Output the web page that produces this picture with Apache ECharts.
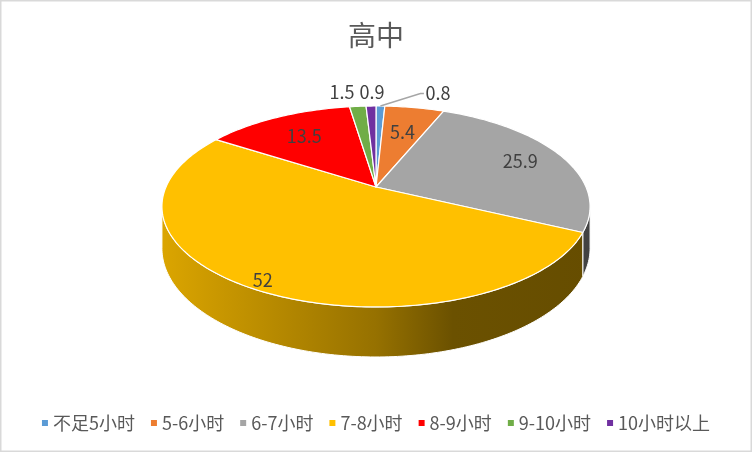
<!DOCTYPE html>
<html lang="zh">
<head>
    <meta charset="UTF-8">
    <title>高中</title>
    <script src="https://cdn.jsdelivr.net/npm/echarts@6/dist/echarts.min.js"></script>
    <style>
        body{margin:0;background:#fff;}
        #main{width:752px;height:452px;}
    </style>
</head>
<body>
    <div id="main"></div>
    <script>
        // data
        var categories = ['不足5小时', '5-6小时', '6-7小时', '7-8小时', '8-9小时', '9-10小时', '10小时以上'];
        var values = [0.8, 5.4, 25.9, 52, 13.5, 1.5, 0.9];
        var colors = ['#5B9BD5', '#ED7D31', '#A5A5A5', '#FFC000', '#FF0000', '#70AD47', '#7030A0'];

        // 3d view of the pie (projected circle)
        var cx = 376, cy = 187;   // apex
        var A = 210, B = 96.7;    // radii before perspective
        var p = 0.194;            // perspective
        var D = 40.3;             // thickness
        var FONT = '"Noto Sans CJK SC", "Noto Sans", sans-serif';

        var total = values.reduce(function (s, v) { return s + v; }, 0);

        function proj(deg, r) {
            var a = deg * Math.PI / 180;
            var u = r * Math.sin(a), v = -r * Math.cos(a);
            var w = 1 - p * v;
            return [cx + A * u / w, cy + B * v / w, w];
        }
        function startAngle(i) {
            var s = 0;
            for (var k = 0; k < i; k++) s += values[k];
            return s / total * 360;
        }
        function arc(a0, a1, r) {
            var pts = [];
            var n = Math.max(2, Math.ceil((a1 - a0) / 1));
            for (var k = 0; k <= n; k++) pts.push(proj(a0 + (a1 - a0) * k / n, r));
            return pts;
        }
        function shade(hex, f) {
            var n = parseInt(hex.slice(1), 16);
            var r = Math.round(((n >> 16) & 255) * f), g = Math.round(((n >> 8) & 255) * f), b = Math.round((n & 255) * f);
            return 'rgb(' + r + ',' + g + ',' + b + ')';
        }
        // the front wall is seen where v > p
        var visFrom = 180 - Math.acos(p) * 180 / Math.PI;
        var visTo = 360 - visFrom;

        // label positions
        function layoutLabels() {
            var res = [];
            var topY = proj(0, 1)[1];
            var leftX = null;
            for (var i = values.length - 1; i >= 0; i--) {
                var pct = values[i] / total * 100;
                var mid = startAngle(i) + values[i] / total * 180;
                var txt = String(values[i]);
                if (pct >= 2) {
                    var q = proj(mid, 0.62 + 0.006 * pct);
                    res[i] = {text: txt, x: q[0], y: q[1], align: 'center'};
                } else if (mid < 90) {
                    var e = proj(mid, 1);
                    var ly = topY - 12.5;
                    res[i] = {text: txt, x: e[0] + 45, y: ly, align: 'left',
                        leader: [[e[0], e[1]], [e[0] + 40, ly], [e[0] + 43.5, ly]]};
                } else {
                    var n = proj(mid, 1);
                    var x = leftX === null ? n[0] + 1 : Math.min(n[0], leftX - 30);
                    leftX = x;
                    res[i] = {text: txt, x: x, y: topY - 14, align: 'center'};
                }
            }
            return res;
        }
        var labels = layoutLabels();

        function renderSlice(i) {
            return function (params, api) {
                var a0 = startAngle(i);
                var a1 = a0 + api.value(0) / total * 360;
                var color = api.visual('color');
                var children = [];

                var top = [[cx, cy]].concat(arc(a0, a1, 1).map(function (q) { return [q[0], q[1]]; }));
                children.push({
                    type: 'polygon', z2: 10,
                    shape: {points: top},
                    style: {fill: color, stroke: '#fff', lineWidth: 1.2, lineJoin: 'round'}
                });

                var lo = Math.max(a0, visFrom), hi = Math.min(a1, visTo);
                if (lo < hi) {
                    var edge = arc(lo, hi, 1);
                    var wall = edge.map(function (q) { return [q[0], q[1]]; });
                    for (var k = edge.length - 1; k >= 0; k--) {
                        wall.push([edge[k][0], edge[k][1] + D / edge[k][2]]);
                    }
                    var grad = new echarts.graphic.LinearGradient(cx - 214, 0, cx + 214, 0, [
                        {offset: 0, color: shade(colors[i], 0.86)},
                        {offset: 0.5, color: shade(colors[i], 0.59)},
                        {offset: 0.68, color: shade(colors[i], 0.42)},
                        {offset: 1, color: shade(colors[i], 0.40)}
                    ], true);
                    children.push({
                        type: 'polygon', z2: 1,
                        shape: {points: wall},
                        style: {fill: grad, stroke: '#fff', lineWidth: 1}
                    });
                }

                var lb = labels[i];
                if (lb.leader) {
                    children.push({
                        type: 'polyline', z2: 20,
                        shape: {points: lb.leader},
                        style: {fill: null, stroke: '#A6A6A6', lineWidth: 1.5}
                    });
                }
                children.push({
                    type: 'text', z2: 20,
                    style: {
                        text: lb.text, x: lb.x, y: lb.y,
                        align: lb.align, verticalAlign: 'middle',
                        fill: '#404040', font: '18px ' + FONT
                    }
                });
                return {type: 'group', children: children};
            };
        }

        var series = [];
        for (var i = 0; i < categories.length; i++) {
            series.push({
                name: categories[i],
                type: 'custom',
                coordinateSystem: 'none',
                itemStyle: {color: colors[i]},
                data: [values[i]],
                renderItem: renderSlice(i),
                silent: true
            });
        }

        var myChart = echarts.init(document.getElementById('main'));
        var option = {
            animation: false,
            backgroundColor: '#fff',
            title: {
                text: '高中',
                left: 'center',
                top: 16,
                textStyle: {fontSize: 28, fontWeight: 'normal', color: '#595959', fontFamily: FONT}
            },
            legend: {
                data: categories,
                bottom: 15,
                left: 'center',
                icon: 'rect',
                itemWidth: 6,
                itemHeight: 6,
                itemGap: 16,
                textStyle: {fontSize: 18, color: '#595959', fontFamily: FONT}
            },
            graphic: [{
                type: 'rect',
                shape: {x: 0.75, y: 0.75, width: 750.5, height: 450.5},
                style: {fill: null, stroke: '#D9D9D9', lineWidth: 1.5},
                silent: true
            }],
            series: series
        };
        myChart.setOption(option);
    </script>
</body>
</html>
